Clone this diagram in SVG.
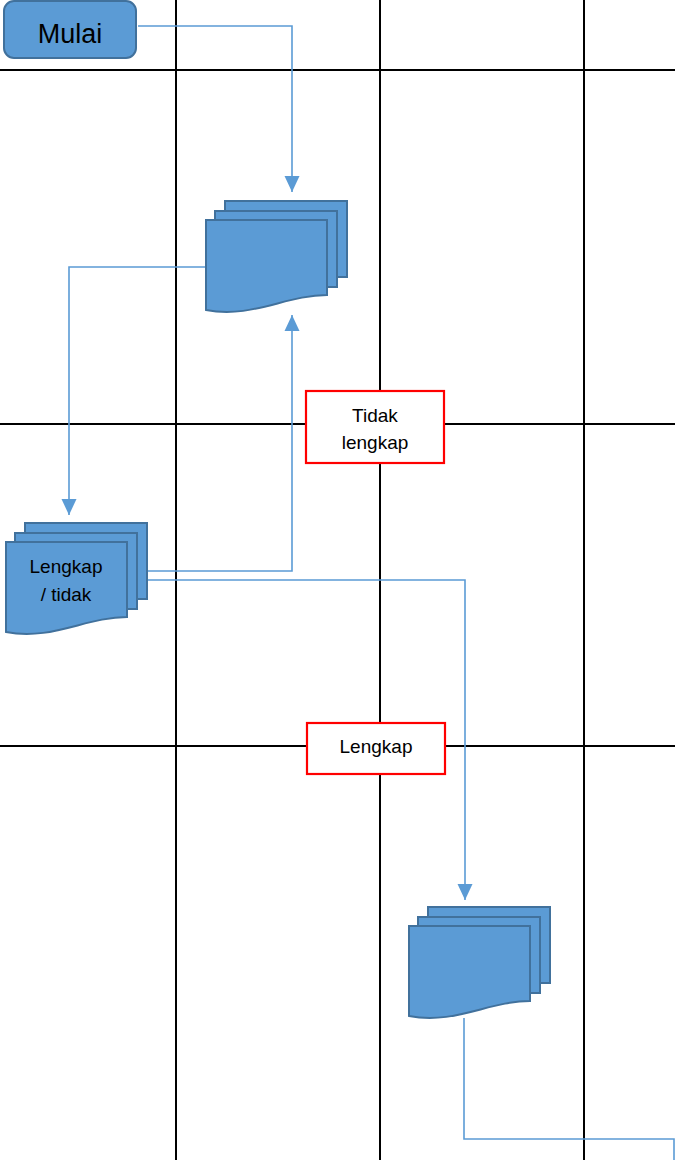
<svg xmlns="http://www.w3.org/2000/svg" xmlns:xlink="http://www.w3.org/1999/xlink" width="675" height="1160" viewBox="0 0 675 1160">
<style>
.grid{stroke:#000;stroke-width:2;fill:none}
.conn{stroke:#5b9bd5;stroke-width:1.6;fill:none}
.shape{fill:#5b9bd5;stroke:#41719c;stroke-width:2}
.lbl{fill:#fff;stroke:#ff0000;stroke-width:2.2}
text{font-family:"Liberation Sans",Arial,sans-serif;fill:#000}
</style>
<defs>
<marker id="arr" markerUnits="userSpaceOnUse" markerWidth="17" markerHeight="17" viewBox="0 0 17 17" refX="16" refY="8.5" orient="auto">
<path d="M0,1 L16,8.5 L0,16 Z" fill="#5b9bd5"/>
</marker>
<g id="multidoc">
<rect class="shape" x="19" y="0" width="122" height="76"/>
<rect class="shape" x="9" y="10" width="122" height="76"/>
<path class="shape" d="M0,19 H121 V94 C80,94 45,118 0,109 Z"/>
</g>
</defs>
<g id="grid">
<line class="grid" x1="176" y1="0" x2="176" y2="1160"/>
<line class="grid" x1="380" y1="0" x2="380" y2="1160"/>
<line class="grid" x1="584" y1="0" x2="584" y2="1160"/>
<line class="grid" x1="0" y1="70" x2="675" y2="70"/>
<line class="grid" x1="0" y1="424" x2="675" y2="424"/>
<line class="grid" x1="0" y1="746" x2="675" y2="746"/>
</g>
<g id="connectors">
<polyline class="conn" points="138,26 292,26 292,192" marker-end="url(#arr)"/>
<polyline class="conn" points="206,267 69,267 69,515" marker-end="url(#arr)"/>
<polyline class="conn" points="147,571 292,571 292,315" marker-end="url(#arr)"/>
<polyline class="conn" points="147,580 465,580 465,900" marker-end="url(#arr)"/>
<polyline class="conn" points="464,1018 464,1139 674,1139 674,1160"/>
</g>
<g id="mulai">
<rect class="shape" x="4" y="1" width="132" height="57" rx="10"/>
<text x="70" y="43" font-size="27" text-anchor="middle">Mulai</text>
</g>
<g id="doc1">
<use xlink:href="#multidoc" transform="translate(206,201)"/>
</g>
<g id="doc2">
<use xlink:href="#multidoc" transform="translate(6,523)"/>
<text x="66" y="573" font-size="19" text-anchor="middle">Lengkap</text>
<text x="66" y="601" font-size="19" text-anchor="middle">/ tidak</text>
</g>
<g id="doc3">
<use xlink:href="#multidoc" transform="translate(409,907)"/>
</g>
<g id="label-tidak-lengkap">
<rect class="lbl" x="306" y="391" width="138" height="72"/>
<text x="375" y="422" font-size="19" text-anchor="middle">Tidak</text>
<text x="375" y="449" font-size="19" text-anchor="middle">lengkap</text>
</g>
<g id="label-lengkap">
<rect class="lbl" x="307" y="723" width="138" height="51"/>
<text x="376" y="753" font-size="19" text-anchor="middle">Lengkap</text>
</g>
</svg>
